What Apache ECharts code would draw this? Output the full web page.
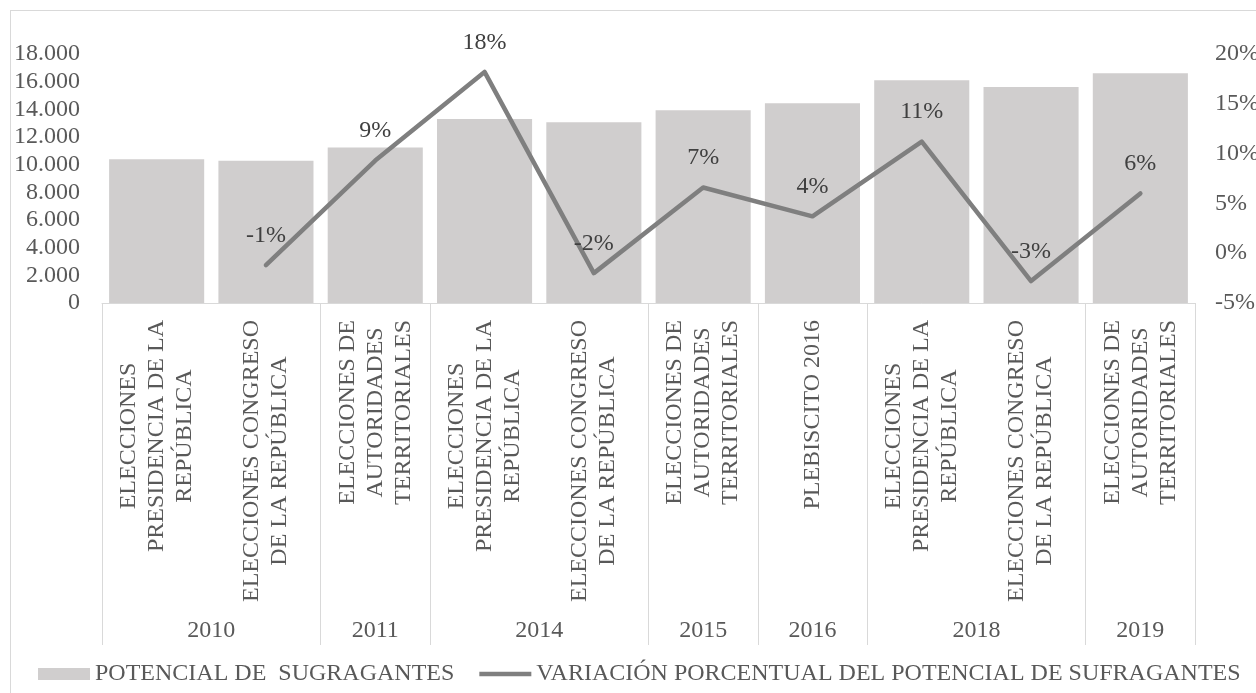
<!DOCTYPE html>
<html>
<head>
<meta charset="utf-8">
<script src="https://cdn.jsdelivr.net/npm/echarts@6/dist/echarts.min.js"></script>
<style>
html,body{margin:0;padding:0;background:#fff;overflow:hidden;}
#frame{position:absolute;left:10px;top:10px;width:1400px;height:900px;border:1px solid #d9d9d9;pointer-events:none;}
#c{position:absolute;left:0;top:0;width:1256px;height:693px;}
</style>
</head>
<body>
<div id="frame"></div>
<div id="c"></div>
<script>
// ---- data ----
const categories = [
  'ELECCIONES\nPRESIDENCIA DE LA\nREPÚBLICA',
  'ELECCIONES CONGRESO\nDE LA REPÚBLICA',
  'ELECCIONES DE\nAUTORIDADES\nTERRITORIALES',
  'ELECCIONES\nPRESIDENCIA DE LA\nREPÚBLICA',
  'ELECCIONES CONGRESO\nDE LA REPÚBLICA',
  'ELECCIONES DE\nAUTORIDADES\nTERRITORIALES',
  'PLEBISCITO 2016',
  'ELECCIONES\nPRESIDENCIA DE LA\nREPÚBLICA',
  'ELECCIONES CONGRESO\nDE LA REPÚBLICA',
  'ELECCIONES DE\nAUTORIDADES\nTERRITORIALES'
];
const years = ['2010','2010','2011','2014','2014','2015','2016','2018','2018','2019'];
const potencial = [10400, 10280, 11240, 13310, 13070, 13940, 14440, 16100, 15620, 16610];
const variacion = [null, -1.2, 9.3, 18.2, -2.0, 6.6, 3.7, 11.2, -2.8, 6.0];
const seriesNames = ['POTENCIAL DE  SUGRAGANTES', 'VARIACIÓN PORCENTUAL DEL POTENCIAL DE SUFRAGANTES'];
const leftAxis = {min: 0, max: 18000, interval: 2000};
const rightAxis = {min: -5, max: 20, interval: 5};

// ---- year groups ----
const groups = [];
years.forEach((y, i) => {
  const g = groups[groups.length - 1];
  if (g && g.year === y) g.end = i + 1;
  else groups.push({year: y, start: i, end: i + 1});
});
const boundaryValues = [0].concat(groups.map(g => g.end));
const groupCenters = groups.map(g => (g.start + g.end) / 2);
const centerToYear = {};
groups.forEach(g => { centerToYear[(g.start + g.end) / 2] = g.year; });

const FONT = 'Liberation Serif';
const FS = 24;
const TXT = '#595959';
const GRIDC = '#d9d9d9';
const LINEC = '#7f7f7f';

const chart = echarts.init(document.getElementById('c'));
chart.setOption({
  animation: false,
  textStyle: {fontFamily: FONT, color: TXT},
  grid: {left: 102, right: 61, top: 54, bottom: 390, containLabel: false, outerBoundsMode: 'none'},
  legend: {
    left: 33, top: 657,
    itemWidth: 52, itemHeight: 12, itemGap: 25,
    textStyle: {fontFamily: FONT, fontSize: FS, color: TXT},
    data: [
      {name: seriesNames[0], icon: 'rect'},
      {name: seriesNames[1], icon: 'path://M0,0H55V4.5H0Z', itemStyle: {color: LINEC}}
    ]
  },
  xAxis: [
    {
      type: 'category',
      data: categories,
      position: 'bottom',
      axisLine: {onZero: false, lineStyle: {color: GRIDC, width: 1}},
      axisTick: {show: false},
      axisLabel: {
        interval: 0,
        rotate: 90,
        margin: 17,
        hideOverlap: false,
        formatter: v => v.split('\n').map(l => '{c|' + l + '}').join('\n'),
        rich: {c: {align: 'center', fontFamily: FONT, fontSize: FS, color: TXT, lineHeight: 28}}
      }
    },
    {
      type: 'value',
      position: 'bottom',
      min: 0, max: categories.length,
      axisLine: {show: false, onZero: false},
      splitLine: {show: false},
      axisTick: {show: true, customValues: boundaryValues, length: 342, lineStyle: {color: GRIDC, width: 1}},
      axisLabel: {
        customValues: groupCenters,
        margin: 316,
        fontFamily: FONT, fontSize: FS, color: TXT,
        formatter: v => centerToYear[v] || ''
      }
    }
  ],
  yAxis: [
    {
      type: 'value', position: 'left',
      min: leftAxis.min, max: leftAxis.max, interval: leftAxis.interval,
      axisLine: {show: false}, axisTick: {show: false}, splitLine: {show: false},
      axisLabel: {
        margin: 22, fontFamily: FONT, fontSize: FS, color: TXT,
        formatter: v => String(v).replace(/\B(?=(\d{3})+(?!\d))/g, '.')
      }
    },
    {
      type: 'value', position: 'right',
      min: rightAxis.min, max: rightAxis.max, interval: rightAxis.interval,
      axisLine: {show: false}, axisTick: {show: false}, splitLine: {show: false},
      axisLabel: {margin: 20, fontFamily: FONT, fontSize: FS, color: TXT, formatter: '{value}%'}
    }
  ],
  series: [
    {
      name: seriesNames[0],
      type: 'bar',
      xAxisIndex: 0, yAxisIndex: 0,
      data: potencial,
      barCategoryGap: '13%',
      itemStyle: {color: '#d0cece'}
    },
    {
      name: seriesNames[1],
      type: 'line',
      xAxisIndex: 0, yAxisIndex: 1,
      data: variacion,
      symbol: 'circle',
      symbolSize: 1,
      showSymbol: true,
      connectNulls: false,
      lineStyle: {color: LINEC, width: 4.5, cap: 'round', join: 'round'},
      itemStyle: {color: LINEC},
      label: {
        show: true, position: 'top', distance: 17,
        fontFamily: FONT, fontSize: FS, color: '#404040',
        formatter: p => (p.value == null ? '' : Math.round(p.value) + '%')
      }
    }
  ]
});
</script>
</body>
</html>
